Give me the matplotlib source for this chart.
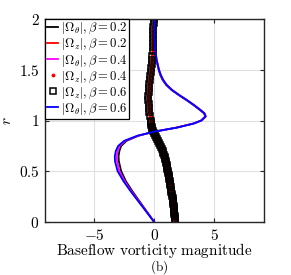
import matplotlib
matplotlib.use("Agg")
import matplotlib.pyplot as plt
from matplotlib.ticker import FixedLocator, FixedFormatter

plt.rcParams['mathtext.fontset'] = 'cm'
plt.rcParams['font.family'] = ['DejaVu Serif']

# ---- data ----
r_theta = [0.0, 0.1, 0.2, 0.3, 0.4, 0.5, 0.6, 0.65, 0.7, 0.75, 0.8, 0.85, 0.89,
           0.93, 0.97, 1.0, 1.04, 1.07, 1.1, 1.15, 1.2, 1.25, 1.3, 1.35, 1.4,
           1.45, 1.5, 1.6, 1.7, 1.8, 1.9, 2.0]
omega_theta_b02 = [0, -0.6, -1.2, -1.8, -2.35, -2.75, -2.95, -2.97, -2.9, -2.75, -2.3,
                   -1.3, 0.0, 1.85, 3.25, 3.9, 4.25, 4.15, 3.85, 3.3, 2.7, 2.05, 1.45,
                   1.0, 0.7, 0.5, 0.37, 0.18, 0.09, 0.05, 0.03, 0.02]
omega_theta_b04 = [0, -0.62, -1.25, -1.88, -2.45, -2.9, -3.1, -3.12, -3.05, -2.88, -2.4,
                   -1.35, 0.0, 1.88, 3.28, 3.93, 4.28, 4.18, 3.88, 3.33, 2.73, 2.08, 1.48,
                   1.03, 0.73, 0.53, 0.39, 0.19, 0.1, 0.05, 0.03, 0.02]
omega_theta_b06 = [0, -0.65, -1.3, -1.95, -2.55, -3.05, -3.27, -3.28, -3.2, -3.0, -2.5,
                   -1.4, 0.0, 1.9, 3.3, 3.95, 4.3, 4.2, 3.9, 3.35, 2.75, 2.1, 1.5,
                   1.05, 0.75, 0.55, 0.4, 0.2, 0.1, 0.05, 0.03, 0.02]

# radial grid of the axial-vorticity profile (finer near the axis)
r_z = [0.00, 0.02, 0.04, 0.06, 0.08, 0.10, 0.12, 0.14, 0.16, 0.18, 0.20, 0.22, 0.24,
       0.26, 0.28, 0.30, 0.32, 0.34, 0.36, 0.38, 0.40, 0.42, 0.44, 0.46, 0.48, 0.50,
       0.52, 0.54, 0.56, 0.58, 0.60, 0.62, 0.64, 0.66, 0.68, 0.70, 0.72, 0.74, 0.76,
       0.78, 0.80, 0.82, 0.84, 0.86, 0.88, 0.90, 0.92, 0.94, 0.96, 0.98, 1.00,
       1.04, 1.08, 1.12, 1.16, 1.20, 1.24, 1.28, 1.32, 1.36, 1.40, 1.44, 1.48, 1.52,
       1.56, 1.60, 1.64, 1.68, 1.72, 1.76, 1.80, 1.84, 1.88, 1.92, 1.96, 2.00]
omega_z = [1.72, 1.72, 1.71, 1.70, 1.68, 1.67, 1.65, 1.64, 1.62, 1.60, 1.58, 1.55, 1.53,
           1.50, 1.47, 1.44, 1.41, 1.38, 1.35, 1.32, 1.29, 1.26, 1.23, 1.20, 1.16, 1.13,
           1.10, 1.06, 1.03, 0.99, 0.95, 0.91, 0.86, 0.81, 0.76, 0.70, 0.64, 0.57, 0.50,
           0.41, 0.32, 0.23, 0.14, 0.05, -0.03, -0.09, -0.15, -0.20, -0.24, -0.27, -0.30,
           -0.35, -0.40, -0.44, -0.47, -0.48, -0.48, -0.47, -0.45, -0.42, -0.39, -0.35,
           -0.30, -0.26, -0.22, -0.18, -0.15, -0.13, -0.11, -0.09, -0.08, -0.07, -0.06,
           -0.06, -0.05, -0.05]
omega_z_b02 = omega_z
omega_z_b04 = omega_z
omega_z_b06 = omega_z

x_ticks = [-5, 0, 5]
x_ticklabels = ['$-5$', '$0$', '$5$']
y_ticks = [0, 0.5, 1, 1.5, 2]
y_ticklabels = ['$0$', '$0.5$', '$1$', '$1.5$', '$2$']

labels = [r'$|\Omega_\theta|, \beta = 0.2$', r'$|\Omega_z|, \beta = 0.2$',
          r'$|\Omega_\theta|, \beta = 0.4$', r'$|\Omega_z|, \beta = 0.4$',
          r'$|\Omega_z|, \beta = 0.6$', r'$|\Omega_\theta|, \beta = 0.6$']

# ---- figure ----
fig = plt.figure(figsize=(2.91, 2.75), dpi=100)
ax = fig.add_axes([45/291, 1 - 222/275, (264-45)/291, (222-19)/275])

h1, = ax.plot(omega_theta_b02, r_theta, color='black', lw=1.3, label=labels[0])
h2, = ax.plot(omega_z_b02, r_z, color='red', lw=1.3, label=labels[1])
h3, = ax.plot(omega_theta_b04, r_theta, color='magenta', lw=1.3, label=labels[2])
h4, = ax.plot(omega_z_b04, r_z, ls='none', marker='.', color='red', ms=3.5, label=labels[3])
h5, = ax.plot(omega_z_b06, r_z, ls='none', marker='s', mfc='none', mec='black', ms=4.8,
              mew=1.1, label=labels[4])
h6, = ax.plot(omega_theta_b06, r_theta, color='blue', lw=1.3, label=labels[5])

ax.set_xlim(-9.1, 9.15)
ax.set_ylim(0, 2)
ax.xaxis.set_major_locator(FixedLocator(x_ticks))
ax.xaxis.set_major_formatter(FixedFormatter(x_ticklabels))
ax.yaxis.set_major_locator(FixedLocator(y_ticks))
ax.yaxis.set_major_formatter(FixedFormatter(y_ticklabels))
ax.tick_params(direction='in', length=3, width=0.8, color='0.15', labelsize=11,
               top=True, right=True, pad=4)
ax.grid(True, color='0.88', lw=0.8)
ax.set_axisbelow(True)
for s in ax.spines.values():
    s.set_color('0.15')
    s.set_linewidth(1.0)

ax.set_xlabel(r'$\mathrm{Baseflow\ vorticity\ magnitude}$', fontsize=11, labelpad=-1)
ax.set_ylabel(r'$r$', fontsize=11)
ax.yaxis.set_label_coords(-0.14, 0.5)
ax.text(0.52, -0.241, r'$\mathrm{(b)}$', transform=ax.transAxes, ha='center',
        va='baseline', fontsize=9.5)

leg = ax.legend(handles=[h1, h2, h3, h4, h5, h6], loc='upper left', bbox_to_anchor=(0, 1),
                borderaxespad=0, fontsize=9.1, handlelength=0.9, handletextpad=0.2,
                labelspacing=0.06, borderpad=0.15, fancybox=False, framealpha=1,
                edgecolor='black', markerscale=1.0)
leg.get_frame().set_linewidth(0.9)

fig.savefig('out.png', dpi=100)
